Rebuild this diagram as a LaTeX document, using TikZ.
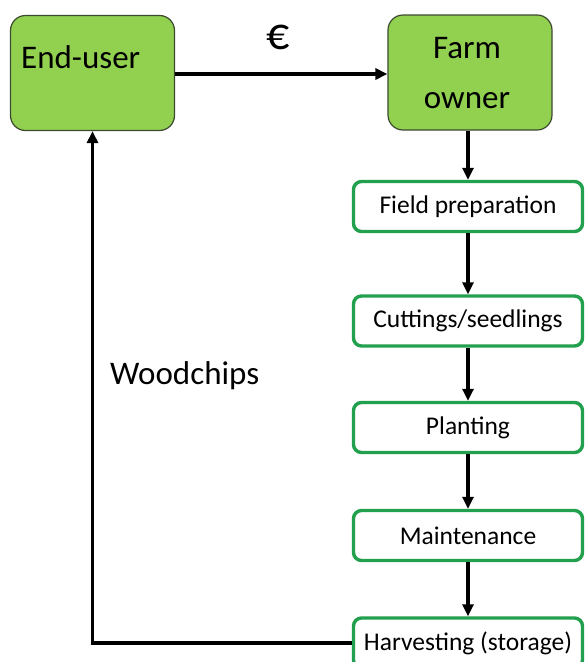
\documentclass[tikz,border=0pt]{standalone}
\usepackage{fontspec}
\setmainfont{Carlito}
\usetikzlibrary{arrows.meta}
\definecolor{fillgreen}{HTML}{92D050}
\definecolor{edgegreen}{HTML}{22A04E}
\definecolor{darkedge}{HTML}{3C4A30}
\begin{document}
\begin{tikzpicture}[x=1pt,y=-1pt,
  bigbox/.style={draw=darkedge,line width=1.2pt,fill=fillgreen,rounded corners=15pt,minimum width=164pt,minimum height=115pt,inner sep=0pt},
  bigtext/.style={font=\fontsize{33}{50}\selectfont,inner sep=0pt,text=black},
  stepbox/.style={draw=edgegreen,line width=3.4pt,fill=white,rounded corners=8pt,minimum width=229pt,minimum height=50pt,inner sep=0pt,font=\fontsize{25.5}{30}\selectfont},
  arr/.style={line width=3.4pt,-{Triangle[length=12pt,width=11pt]}}]
\useasboundingbox (0,0) rectangle (585,662);
\clip (0,0) rectangle (585,662);
\fill[white] (0,0) rectangle (585,662);
\node[bigbox] (eu) at (92.5,73) {};
\node[bigtext,anchor=west] (eut) at (21,57) {End-user};
\node[bigbox] (fo) at (470,72.5) {};
\node[bigtext,align=center] (fot) at (467,73) {Farm\\owner};
\node[bigtext,font=\fontsize{46}{50}\selectfont] (euro) at (278,37) {€};
\node[stepbox] (fp) at (468,206.5) {Field preparation};
\node[stepbox] (cs) at (468,321) {Cuttings/seedlings};
\node[stepbox] (pl) at (468,427.5) {Planting};
\node[stepbox] (mt) at (468,535.5) {Maintenance};
\node[stepbox] (hv) at (468,643) {Harvesting (storage)};
\node[bigtext,anchor=west] (wc) at (110,376) {Woodchips};
\draw[arr] (eu.east |- 0,74) -- (fo.west |- 0,74);
\draw[arr] (fo.south -| 468,0) -- (fp.north);
\draw[arr] (fp) -- (cs);
\draw[arr] (cs) -- (pl);
\draw[arr] (pl) -- (mt);
\draw[arr] (mt) -- (hv);
\draw[arr] (hv.west) -| (eu.south);
\end{tikzpicture}
\end{document}
